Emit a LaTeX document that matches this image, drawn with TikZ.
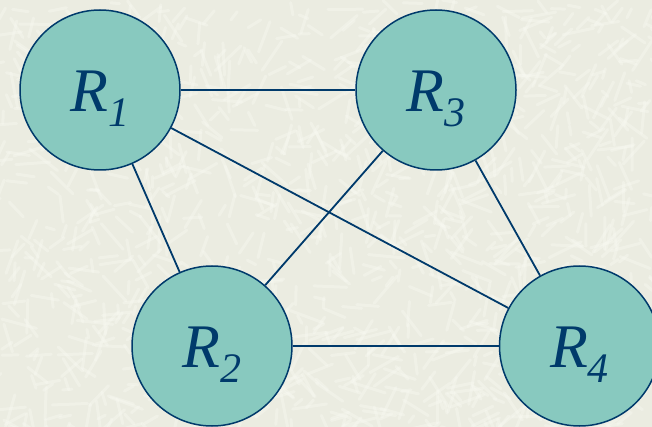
\documentclass[tikz,border=0pt]{standalone}
\usepackage{fontspec}
\setmainfont{Liberation Serif}[ItalicFont={Liberation Serif Italic}]
\definecolor{paper}{HTML}{EBECE1}
\definecolor{fibre}{HTML}{F8F9F2}
\definecolor{navy}{HTML}{003A6B}
\definecolor{tealfill}{HTML}{88C9BF}
\tikzset{
  router/.style={circle, minimum size=160pt, inner sep=0pt, fill=tealfill,
                 draw=navy, line width=1.5pt, text=navy,
                 text height=58pt, text depth=15pt,
                 font=\fontsize{62}{62}\selectfont\itshape},
  link/.style={draw=navy, line width=1.8pt}
}
\newcommand{\rlabel}[1]{R\raisebox{-15pt}{\fontsize{42}{42}\selectfont #1}}
\begin{document}
\begin{tikzpicture}[x=1pt, y=-1pt]
  % paper background with light fibres
  \fill[paper] (0,0) rectangle (652,427);
  \useasboundingbox (0,0) rectangle (652,427);
  \pgfmathsetseed{17}
  \begin{scope}
    \clip (0,0) rectangle (652,427);
    \foreach \i in {1,...,1300}{
      \pgfmathsetmacro\px{652*rnd}
      \pgfmathsetmacro\py{427*rnd}
      \pgfmathsetmacro\ang{180*rnd}
      \pgfmathsetmacro\len{8+28*rnd}
      \draw[fibre, line width=3pt, opacity=0.4, line cap=round]
        (\px,\py) -- ++(\ang:\len);
    }
  \end{scope}
  % routers
  \node[router] (r1) at (100,90) {\rlabel{1}};
  \node[router] (r3) at (436,90) {\rlabel{3}};
  \node[router] (r2) at (212,346) {\rlabel{2}};
  \node[router] (r4) at (579.5,346) {\rlabel{4}};
  % links
  \draw[link] (r1) -- (r3);
  \draw[link] (r1) -- (r2);
  \draw[link] (r1) -- (r4);
  \draw[link] (r3) -- (r2);
  \draw[link] (r3) -- (r4);
  \draw[link] (r2) -- (r4);
\end{tikzpicture}
\end{document}
